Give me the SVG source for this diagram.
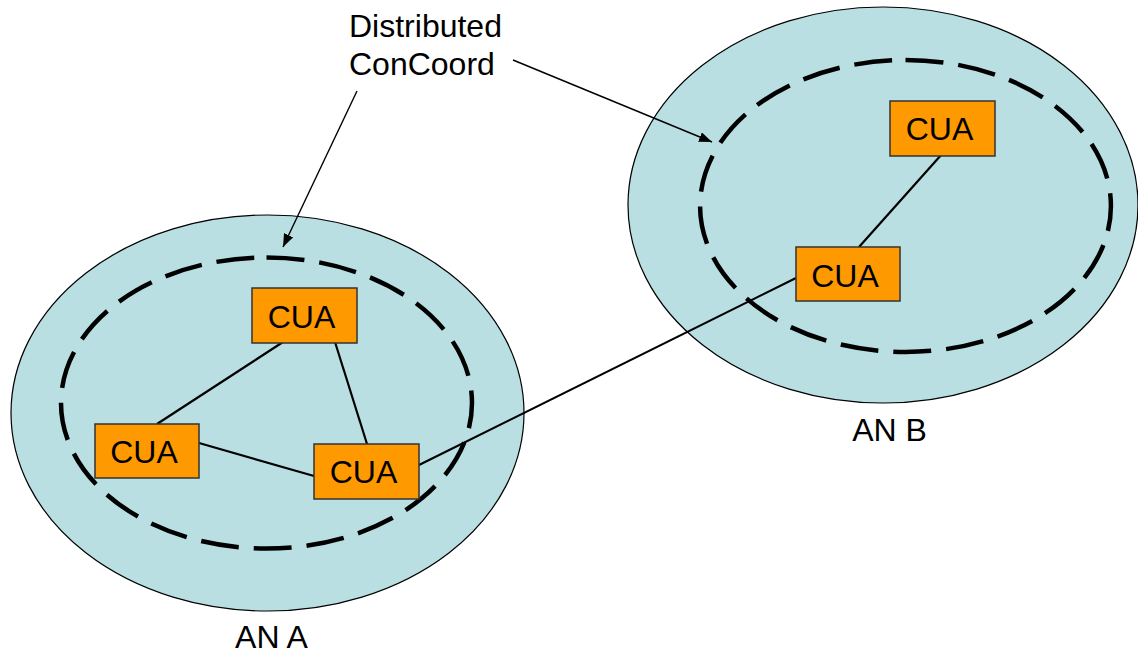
<svg xmlns="http://www.w3.org/2000/svg" width="1138" height="653" viewBox="0 0 1138 653">
  <defs>
    <style>
      .domain { fill: #B9DFE2; stroke: #000; stroke-width: 1.2; }
      .coord { fill: none; stroke: #000; stroke-width: 4.5; stroke-dasharray: 38 15; }
      .cua rect { fill: #FF9900; stroke: #333; stroke-width: 1.5; }
      .label { font-family: "Liberation Sans", Arial, sans-serif; font-size: 32px; fill: #000; }
      .mid { text-anchor: middle; }
      .link { stroke: #000; stroke-width: 2.2; fill: none; }
      .pointer { stroke: #000; stroke-width: 1.4; fill: none; marker-end: url(#head); }
    </style>
    <marker id="head" markerUnits="userSpaceOnUse" markerWidth="14" markerHeight="10" refX="13" refY="5" orient="auto">
      <path d="M0,0 L13,5 L0,10 Z" fill="#000"/>
    </marker>
  </defs>

  <rect width="1138" height="653" fill="#fff"/>

  <!-- Access network A -->
  <g id="an-a">
    <ellipse class="domain" cx="267.5" cy="413" rx="256.5" ry="198"/>
    <path class="coord" d="M266.5,257.5 A205.5,145.5 0 0 1 266.5,548.5 A205.5,145.5 0 0 1 266.5,257.5"/>
    <text class="label mid" x="271.5" y="648">AN A</text>
  </g>

  <!-- Access network B -->
  <g id="an-b">
    <ellipse class="domain" cx="883" cy="205" rx="255" ry="198"/>
    <path class="coord" d="M905.5,60 A205.5,146 0 0 1 905.5,352 A205.5,146 0 0 1 905.5,60"/>
    <text class="label mid" x="889.5" y="441">AN B</text>
  </g>

  <!-- Links between agents -->
  <g id="connectors">
    <line class="link" x1="283" y1="342" x2="157" y2="424"/>
    <line class="link" x1="335" y1="342" x2="367" y2="444"/>
    <line class="link" x1="199" y1="443" x2="314" y2="476"/>
    <line class="link" x1="419" y1="465" x2="796" y2="278"/>
    <line class="link" x1="942" y1="154" x2="859" y2="247"/>
    <line class="pointer" x1="357" y1="91" x2="283" y2="247"/>
    <line class="pointer" x1="513" y1="60" x2="712" y2="142"/>
  </g>

  <!-- Caption -->
  <g id="caption">
    <text class="label" x="349" y="37">Distributed</text>
    <text class="label" x="349" y="75">ConCoord</text>
  </g>

  <!-- Agents in AN A -->
  <g id="cua-a1" class="cua">
    <rect x="252" y="288" width="105" height="55"/>
    <text class="label mid" x="301.5" y="328">CUA</text>
  </g>
  <g id="cua-a2" class="cua">
    <rect x="95" y="424" width="104" height="54"/>
    <text class="label mid" x="144" y="463">CUA</text>
  </g>
  <g id="cua-a3" class="cua">
    <rect x="314" y="444" width="105" height="55"/>
    <text class="label mid" x="363.5" y="483">CUA</text>
  </g>

  <!-- Agents in AN B -->
  <g id="cua-b1" class="cua">
    <rect x="890" y="101" width="105" height="55"/>
    <text class="label mid" x="939.5" y="140">CUA</text>
  </g>
  <g id="cua-b2" class="cua">
    <rect x="796" y="247" width="104" height="54"/>
    <text class="label mid" x="845" y="287">CUA</text>
  </g>
</svg>
